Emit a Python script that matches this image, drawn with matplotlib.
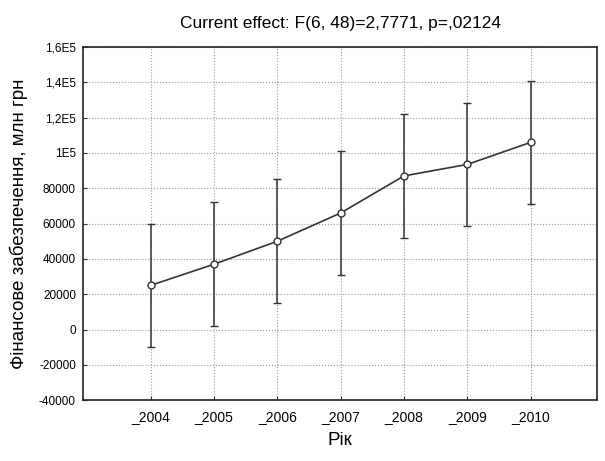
import matplotlib.pyplot as plt
import numpy as np

plt.rcParams['font.family'] = ['Liberation Sans', 'DejaVu Sans']

# data
years = ['_2004', '_2005', '_2006', '_2007', '_2008', '_2009', '_2010']
means = [25000, 37000, 50000, 66000, 87000, 93500, 106000]
errs = [35000, 35000, 35000, 35000, 35000, 35000, 35000]
yticks = [-40000, -20000, 0, 20000, 40000, 60000, 80000, 100000, 120000, 140000, 160000]
ytick_labels = ['-40000', '-20000', '0', '20000', '40000', '60000', '80000',
                '1E5', '1,2E5', '1,4E5', '1,6E5']

fig = plt.figure(figsize=(6.05, 4.61), dpi=100)
ax = fig.add_axes([0.137, 0.132, 0.850, 0.766])

x = np.arange(len(years))
ax.errorbar(x, means, yerr=errs, fmt='-o', color='#333333', lw=1.2,
            ecolor='#333333', elinewidth=1.1, capsize=3, capthick=1.0,
            markersize=5, markerfacecolor='white', markeredgecolor='#333333',
            markeredgewidth=1.0, zorder=3)

ax.set_xlim(-1.07, len(years) - 1 + 1.05)
ax.set_ylim(-40000, 160000)
ax.set_xticks(x)
ax.set_xticklabels(years, fontsize=10)
ax.set_yticks(yticks)
ax.set_yticklabels(ytick_labels, fontsize=8.5)
ax.tick_params(direction='in', length=3, color='#333333')
ax.tick_params(axis='x', pad=7)
ax.tick_params(axis='y', pad=5)

ax.grid(True, linestyle=':', color='#999999', linewidth=0.8)
for s in ax.spines.values():
    s.set_color('#222222')
    s.set_linewidth(1.2)

ax.set_title('Current effect: F(6, 48)=2,7771, p=,02124', fontsize=12.5, pad=14)
ax.set_ylabel('Фінансове забезпечення, млн грн', fontsize=13.5, labelpad=8)
ax.set_xlabel('Рік', fontsize=13.5, labelpad=6)

fig.savefig('out.png', dpi=100, facecolor='white')
